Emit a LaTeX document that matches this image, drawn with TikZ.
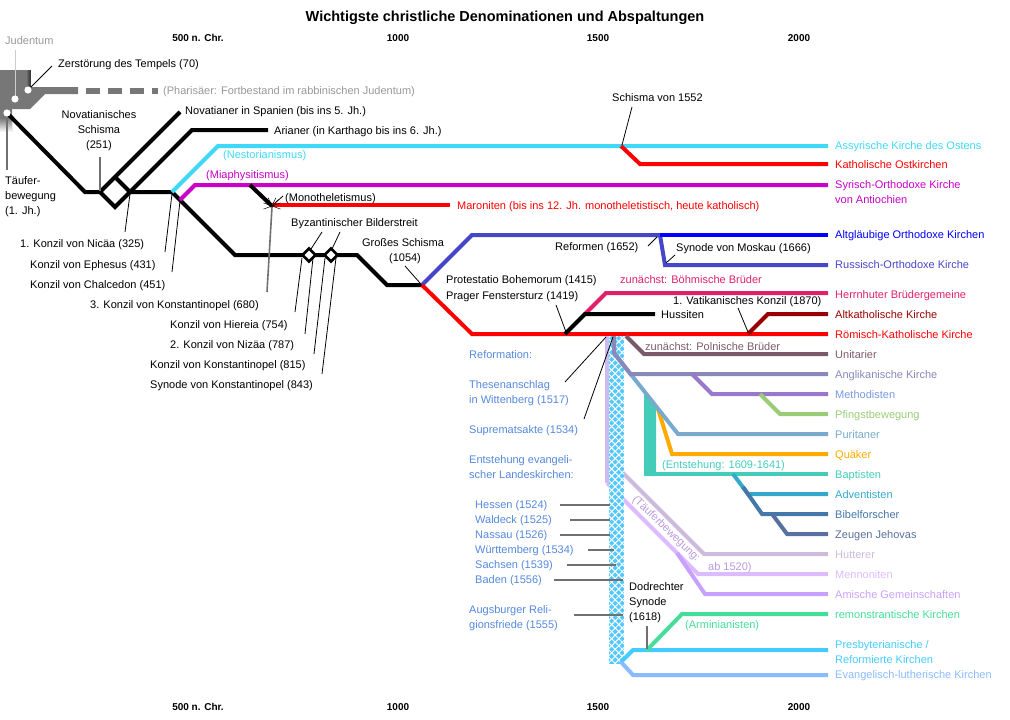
\documentclass[tikz,border=0pt]{standalone}
\usepackage{fontspec}
\setmainfont{Liberation Sans}
\usetikzlibrary{patterns.meta,shapes.geometric}
\definecolor{judgray}{HTML}{777777}
\definecolor{lightg}{HTML}{999999}
\definecolor{ptrgray}{HTML}{707070}
\definecolor{cyanA}{HTML}{3DD9F7}
\definecolor{mag}{HTML}{C800C8}
\definecolor{blueAlt}{HTML}{0000FF}
\definecolor{slate}{HTML}{4646C8}
\definecolor{pink}{HTML}{E0206A}
\definecolor{darkred}{HTML}{990000}
\definecolor{unit}{HTML}{7A5A6A}
\definecolor{angl}{HTML}{8888BB}
\definecolor{meth}{HTML}{9977CC}
\definecolor{methlbl}{HTML}{7799DD}
\definecolor{pfingst}{HTML}{99CC77}
\definecolor{purit}{HTML}{77AACC}
\definecolor{quak}{HTML}{FFAA00}
\definecolor{bapt}{HTML}{44CCBB}
\definecolor{advent}{HTML}{33AACC}
\definecolor{bibel}{HTML}{4477AA}
\definecolor{zeugen}{HTML}{5870A0}
\definecolor{hutt}{HTML}{CCBBDD}
\definecolor{menn}{HTML}{DDBBFF}
\definecolor{amish}{HTML}{C8A0FF}
\definecolor{remon}{HTML}{44DD99}
\definecolor{presb}{HTML}{44CCFF}
\definecolor{luth}{HTML}{88BBFF}
\definecolor{reflbl}{HTML}{5588DD}
\definecolor{tauf}{HTML}{CCBBEE}
\definecolor{tauftxt}{HTML}{BB99DD}
\definecolor{barblue}{HTML}{55C8FF}
\begin{document}
\begin{tikzpicture}[x=1pt,y=-1pt,line join=miter,
  lbl/.style={anchor=base west,inner sep=0pt,font=\fontsize{11}{13}\selectfont},
  lblc/.style={lbl,anchor=base},
  br/.style={line width=4pt},
  ptr/.style={line width=0.8pt,black},
  gptr/.style={line width=1.6pt,ptrgray},
  axislbl/.style={inner sep=0pt,anchor=base,font=\bfseries\fontsize{10}{12}\selectfont},
  diam/.style={draw=black,line width=2.6pt,fill=white,shape=diamond,inner sep=0pt,minimum size=14pt}]
\useasboundingbox (0,0) rectangle (1010,720);
% title and axis
\node[inner sep=0pt,anchor=base,font=\bfseries\fontsize{14.5}{16}\selectfont] (title) at (505,21) {Wichtigste christliche Denominationen und Abspaltungen};
\node[axislbl] (a500) at (198,41) {500 n. Chr.};
\node[axislbl] (a1000) at (398,41) {1000};
\node[axislbl] (a1500) at (598,41) {1500};
\node[axislbl] (a2000) at (799,41) {2000};
\node[axislbl] (b500) at (198,710) {500 n. Chr.};
\node[axislbl] (b1000) at (398,710) {1000};
\node[axislbl] (b1500) at (598,710) {1500};
\node[axislbl] (b2000) at (799,710) {2000};
% Judentum block
\fill[judgray] (0,70) -- (33,70) -- (33,87) -- (78,87) -- (78,94) -- (45,94) -- (30,109) -- (12,109) -- (12,132) -- (0,132) -- cycle;
\shade[left color=judgray,right color=black!85] (26,70) rectangle (31,87);
\fill[white] (31,70) rectangle (34,86.5);
\shade[top color=judgray,bottom color=white] (0,118) rectangle (12,132);
\draw[judgray,line width=6pt,dash pattern=on 14pt off 8pt] (86,90.5) -- (158,90.5);
\draw[line width=0.9pt,black!20] (15,50) -- (15,96);
\fill[white] (15,99) circle (3.6);
\fill[white] (28,90) circle (3.6);
\draw[ptr] (52,66) -- (31,87);
% main black line
\draw[br] (7,113) -- (85,192) -- (100,192) -- (115,207) -- (130,192) -- (172,192) -- (235,255) -- (357,255) -- (387,285) -- (422,285);
\fill[white] (7,113) circle (3.6);
\draw[gptr,line width=1.2pt] (7,117) -- (7,170);
\draw[br] (100,192) -- (180,112);
\draw[br] (115,177) -- (130,192);
\draw[br] (130,192) -- (192,130) -- (268,130);
\draw[br,cyanA] (172,192) -- (218,146) -- (828,146);
\draw[br,mag] (180,200) -- (195,185) -- (828,185);
\draw[br] (250,185) -- (272,206);
\draw[br,red] (272,205) -- (450,205);
\foreach \a in {-160,-135,-115,-65,-45,-20,160,20}{\draw[line width=0.5pt] (272,206) -- ++(\a:9);}
\draw[gptr] (267,292) -- (272,207);
\node[diam] (d1) at (309,255) {};
\node[diam] (d2) at (331,255) {};
% Assyrian split
\draw[br,red] (621,146) -- (640,164) -- (828,164);
% Orthodox
\draw[br,slate] (422,285) -- (472,235) -- (660,235) -- (665,265) -- (828,265);
\draw[br,blueAlt] (660,235) -- (828,235);
% Catholic
\draw[br,red] (422,285) -- (472,334) -- (828,334);
\draw[br,pink] (585,314) -- (606,293) -- (828,293);
\draw[br] (565,334) -- (585,314) -- (655,314);
\draw[br,darkred] (748,334) -- (768,314) -- (828,314);
% Reformation
\draw[line width=4pt,tauf] (607,336) -- (607,483);
\draw[br,hutt] (607,457) -- (704,554) -- (828,554);
\draw[br,menn] (607,483) -- (698,574) -- (828,574);
\draw[br,amish] (677,553) -- (705,594) -- (828,594);
\fill[barblue] (609,336) rectangle (624,664);
\fill[pattern={Lines[angle=45,distance=5pt,line width=1pt]},pattern color=white] (609,336) rectangle (624,664);
\fill[pattern={Lines[angle=-45,distance=5pt,line width=1pt]},pattern color=white] (609,336) rectangle (624,664);
\draw[br,unit] (626,336) -- (644,354) -- (828,354);
\fill[bapt] (644,391) -- (656,406) -- (656,476) -- (644,476) -- cycle;
\draw[br,bapt] (644,474) -- (828,474);
\draw[br,quak] (658,409) -- (672,454) -- (828,454);
\draw[br,purit] (614,336) -- (614,353) -- (678,434) -- (828,434);
\draw[br,angl] (614,336) -- (614,353) -- (630.5,374) -- (828,374);
\draw[br,meth] (692,374) -- (712,394) -- (828,394);
\draw[br,pfingst] (760,394) -- (780,414) -- (828,414);
\draw[br,advent] (733,474) -- (748,494) -- (828,494);
\draw[br,bibel] (743,487) -- (762,514) -- (828,514);
\draw[br,zeugen] (772,514) -- (787,534) -- (828,534);
\draw[br,presb] (621,662) -- (633,650) -- (828,650);
\draw[br,luth] (621,662) -- (633,675) -- (828,675);
\draw[br,remon] (647,650) -- (682,614) -- (828,614);
% left labels
\node[lbl,lightg] (jud) at (5,45) {Judentum};
\node[lbl] (temp) at (58,67) {Zerstörung des Tempels (70)};
\node[lbl,lightg] (phar) at (163,94) {(Pharisäer: Fortbestand im rabbinischen Judentum)};
\node[lblc] (nov1) at (99,118) {Novatianisches};
\node[lblc] (nov2) at (99,133) {Schisma};
\node[lblc] (nov3) at (99,148) {(251)};
\draw[gptr,line width=1.2pt] (100,157) -- (100,191);
\node[lbl] (tf1) at (5,184) {Täufer-};
\node[lbl] (tf2) at (5,199) {bewegung};
\node[lbl] (tf3) at (5,214) {(1. Jh.)};
\node[lbl] (novsp) at (185,114) {Novatianer in Spanien (bis ins 5. Jh.)};
\node[lbl] (arian) at (274,134) {Arianer (in Karthago bis ins 6. Jh.)};
\node[lbl,cyanA] (nest) at (223,158) {(Nestorianismus)};
\node[lbl,mag] (miaph) at (206,178) {(Miaphysitismus)};
\node[lbl] (monot) at (285,201) {(Monotheletismus)};
\draw[ptr] (283,196) -- (275,203);
\node[lbl,red] (maron) at (457,209) {Maroniten (bis ins 12. Jh. monotheletistisch, heute katholisch)};
\node[lbl] (byz) at (291,226) {Byzantinischer Bilderstreit};
\draw[ptr] (322,232) -- (311,249);
\draw[ptr] (340,232) -- (332,249);
\node[lblc] (gs1) at (403,246) {Großes Schisma};
\node[lblc] (gs2) at (405,261) {(1054)};
\draw[ptr] (405,266) -- (420,283);
\node[lbl] (c1) at (20,247) {1. Konzil von Nicäa (325)};
\draw[ptr] (125,232) -- (130,194);
\node[lbl] (c2) at (30,268) {Konzil von Ephesus (431)};
\draw[ptr] (165,252) -- (172,194);
\node[lbl] (c3) at (30,288) {Konzil von Chalcedon (451)};
\draw[ptr] (172,272) -- (180,201);
\node[lbl] (c4) at (90,308) {3. Konzil von Konstantinopel (680)};
\node[lbl] (c5) at (170,328) {Konzil von Hiereia (754)};
\draw[ptr] (295,312) -- (302,258);
\node[lbl] (c6) at (170,348) {2. Konzil von Nizäa (787)};
\draw[ptr] (305,334) -- (313,258);
\node[lbl] (c7) at (150,368) {Konzil von Konstantinopel (815)};
\draw[ptr] (314,354) -- (325,258);
\node[lbl] (c8) at (150,388) {Synode von Konstantinopel (843)};
\draw[ptr] (322,374) -- (336,258);
% middle labels
\node[lbl] (s1552) at (612,101) {Schisma von 1552};
\draw[ptr] (632,107) -- (622,145);
\node[lbl] (ref1652) at (555,250) {Reformen (1652)};
\draw[ptr] (648,246) -- (657,237);
\node[lbl] (mosk) at (676,251) {Synode von Moskau (1666)};
\draw[ptr] (675,255) -- (666,263);
\node[lbl] (prot) at (446,283) {Protestatio Bohemorum (1415)};
\node[lbl] (prag) at (446,299) {Prager Fenstersturz (1419)};
\draw[ptr] (556,305) -- (566,332);
\node[lbl,pink] (bohm) at (620,283) {zunächst: Böhmische Brüder};
\node[lbl] (vat) at (673,304) {1. Vatikanisches Konzil (1870)};
\draw[ptr] (738,308) -- (748,332);
\node[lbl] (huss) at (661,318) {Hussiten};
\node[lbl,unit] (poln) at (645,350) {zunächst: Polnische Brüder};
\node[lbl,bapt] (entst) at (662,468) {(Entstehung: 1609-1641)};
\node[inner sep=0pt,rotate=-44,tauftxt,font=\fontsize{11}{13}\selectfont] (taeuf) at (666,529) {(Täuferbewegung:};
\node[lbl,tauftxt] (ab1520) at (708,570) {ab 1520)};
\node[lbl] (dod1) at (629,590) {Dodrechter};
\node[lbl] (dod2) at (629,605) {Synode};
\node[lbl] (dod3) at (629,620) {(1618)};
\draw[gptr] (647,626) -- (647,649);
\node[lbl,remon] (armin) at (685,628) {(Arminianisten)};
% reformation labels
\node[lbl,reflbl] (r1) at (469,358) {Reformation:};
\node[lbl,reflbl] (r2) at (469,388) {Thesenanschlag};
\node[lbl,reflbl] (r3) at (469,403) {in Wittenberg (1517)};
\draw[ptr] (565,382) -- (606,337);
\node[lbl,reflbl] (r4) at (469,433) {Suprematsakte (1534)};
\draw[ptr] (584,419) -- (613,337);
\node[lbl,reflbl] (r5) at (469,463) {Entstehung evangeli-};
\node[lbl,reflbl] (r6) at (469,478) {scher Landeskirchen:};
\node[lbl,reflbl] (lk1) at (475,508) {Hessen (1524)};
\draw[gptr] (560,505) -- (610,505);
\node[lbl,reflbl] (lk2) at (475,523) {Waldeck (1525)};
\draw[gptr] (570,520) -- (610,520);
\node[lbl,reflbl] (lk3) at (475,538) {Nassau (1526)};
\draw[gptr] (560,535) -- (610,535);
\node[lbl,reflbl] (lk4) at (475,553) {Württemberg (1534)};
\draw[gptr] (588,550) -- (614,550);
\node[lbl,reflbl] (lk5) at (475,568) {Sachsen (1539)};
\draw[gptr] (567,565) -- (616,565);
\node[lbl,reflbl] (lk6) at (475,583) {Baden (1556)};
\draw[gptr] (554,580) -- (623,580);
\node[lbl,reflbl] (au1) at (469,613) {Augsburger Reli-};
\node[lbl,reflbl] (au2) at (469,628) {gionsfriede (1555)};
\draw[gptr] (574,615) -- (623,615);
% right labels
\node[lbl,cyanA] (e1) at (835,149) {Assyrische Kirche des Ostens};
\node[lbl,red] (e2) at (835,168) {Katholische Ostkirchen};
\node[lbl,mag] (e3) at (835,188) {Syrisch-Orthodoxe Kirche};
\node[lbl,mag] (e3b) at (835,203) {von Antiochien};
\node[lbl,blueAlt] (e4) at (835,238) {Altgläubige Orthodoxe Kirchen};
\node[lbl,slate] (e5) at (835,268) {Russisch-Orthodoxe Kirche};
\node[lbl,pink] (e6) at (835,298) {Herrnhuter Brüdergemeine};
\node[lbl,darkred] (e7) at (835,318) {Altkatholische Kirche};
\node[lbl,red] (e8) at (835,338) {Römisch-Katholische Kirche};
\node[lbl,unit] (e9) at (835,358) {Unitarier};
\node[lbl,angl] (e10) at (835,378) {Anglikanische Kirche};
\node[lbl,methlbl] (e11) at (835,398) {Methodisten};
\node[lbl,pfingst] (e12) at (835,418) {Pfingstbewegung};
\node[lbl,purit] (e13) at (835,438) {Puritaner};
\node[lbl,quak] (e14) at (835,458) {Quäker};
\node[lbl,bapt] (e15) at (835,478) {Baptisten};
\node[lbl,advent] (e16) at (835,498) {Adventisten};
\node[lbl,bibel] (e17) at (835,518) {Bibelforscher};
\node[lbl,zeugen] (e18) at (835,538) {Zeugen Jehovas};
\node[lbl,hutt] (e19) at (835,558) {Hutterer};
\node[lbl,menn] (e20) at (835,578) {Mennoniten};
\node[lbl,amish] (e21) at (835,598) {Amische Gemeinschaften};
\node[lbl,remon] (e22) at (835,618) {remonstrantische Kirchen};
\node[lbl,presb] (e23) at (835,648) {Presbyterianische /};
\node[lbl,presb] (e23b) at (835,663) {Reformierte Kirchen};
\node[lbl,luth] (e24) at (835,678) {Evangelisch-lutherische Kirchen};
\end{tikzpicture}
\end{document}
